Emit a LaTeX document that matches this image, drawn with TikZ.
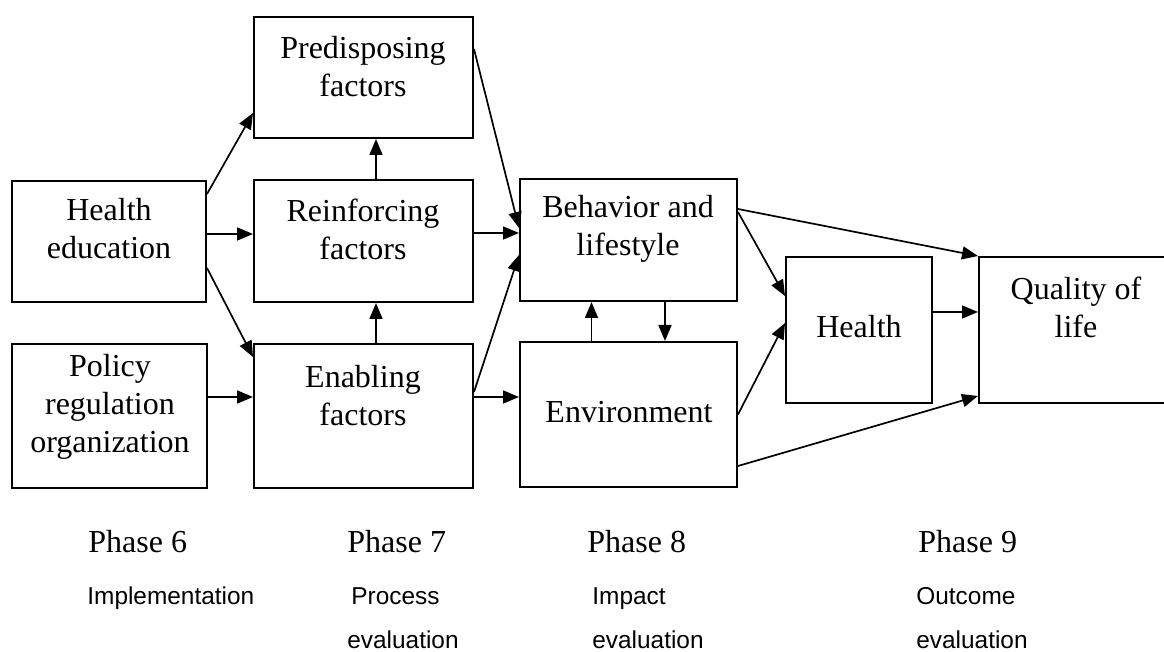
\documentclass[tikz,border=0pt]{standalone}
\usepackage{fontspec}
\setmainfont{Liberation Serif}
\newfontfamily\subfont{Liberation Sans}
\usetikzlibrary{arrows.meta,fit}
\begin{document}
\begin{tikzpicture}[x=0.5pt,y=-0.5pt,
  box/.style={draw,line width=1pt,inner sep=0pt},
  lbl/.style={align=center,inner sep=0pt,font=\fontsize{16}{19}\selectfont},
  arr/.style={line width=0.85pt,-{Triangle[length=8pt,width=6.5pt]}},
  phase/.style={anchor=base west,inner sep=0pt,font=\fontsize{16}{19}\selectfont},
  sub/.style={anchor=base west,inner sep=0pt,font=\subfont\fontsize{12.2}{14}\selectfont}]
\clip (0,0) rectangle (1164,652);
\useasboundingbox (0,0) rectangle (1164,652);
% boxes
\node[box,fit={(254,17) (473,138)}] (pre) {};
\node[box,fit={(12,181) (206,302)}] (he) {};
\node[box,fit={(254,180) (473,302)}] (rein) {};
\node[box,fit={(12,344) (207,488)}] (pol) {};
\node[box,fit={(254,344) (473,488)}] (ena) {};
\node[box,fit={(520,179) (737,301)}] (beh) {};
\node[box,fit={(520,342) (737,487)}] (env) {};
\node[box,fit={(786,257) (932,403)}] (hea) {};
\node[box,fit={(979,257) (1180,403)}] (qol) {};
% texts
\node[lbl] (preT) at (363,67) {Predisposing\\factors};
\node[lbl] (heT) at (109,229) {Health\\education};
\node[lbl] (reinT) at (363,229) {Reinforcing\\factors};
\node[lbl] (polT) at (110,407) {Policy\\regulation\\organization};
\node[lbl] (enaT) at (363,396) {Enabling\\factors};
\node[lbl] (behT) at (628,229) {Behavior and\\lifestyle};
\node[lbl] (envT) at (629,412) {Environment};
\node[lbl] (heaT) at (859,327) {Health};
\node[lbl] (qolT) at (1076,307) {Quality of\\life};
% connectors
\draw[arr] ([yshift=-7pt]he.north east) -- ([yshift=13pt]pre.south west);
\coordinate (h2) at ([yshift=3.75pt]he.east);
\draw[arr] (h2) -- (h2 -| rein.west);
\draw[arr] ([yshift=17.5pt]he.south east) -- ([yshift=-7pt]ena.north west);
\coordinate (r4) at ([xshift=6.25pt]rein.north);
\draw[arr] (r4) -- (r4 |- pre.south);
\coordinate (e5) at ([xshift=6.25pt]ena.north);
\draw[arr] (e5) -- (e5 |- rein.south);
\coordinate (p6) at ([yshift=9.5pt]pol.east);
\draw[arr] (p6) -- (p6 -| ena.west);
\draw[arr] ([yshift=-16.5pt]pre.north east) -- ([yshift=6pt]beh.west);
\coordinate (r8) at ([yshift=4pt]rein.east);
\draw[arr] (r8) -- (r8 -| beh.west);
\draw[arr] ([yshift=12pt]ena.east) -- ([yshift=-7.5pt]beh.west);
\coordinate (e10) at ([yshift=9.5pt]ena.east);
\draw[arr] (e10) -- (e10 -| env.west);
\coordinate (v11) at ([xshift=-18.5pt]env.north);
\draw[arr] (v11) -- (v11 |- beh.south);
\coordinate (b12) at ([xshift=18.25pt]beh.south);
\draw[arr] (b12) -- (b12 |- env.north);
\draw[arr] ([yshift=-15.5pt]beh.north east) -- (qol.north west);
\draw[arr] ([yshift=-17pt]beh.north east) -- ([yshift=-20pt]hea.north west);
\draw[arr] (env.east) -- ([yshift=3.5pt]hea.west);
\draw[arr] ([yshift=11pt]env.south east) -- ([yshift=4pt]qol.south west);
\coordinate (h17) at ([yshift=9pt]hea.east);
\draw[arr] (h17) -- (h17 -| qol.west);
% phases
\node[phase] (ph6) at (88,553) {Phase 6};
\node[sub] (ph6a) at (87,604) {Implementation};
\node[phase] (ph7) at (347,553) {Phase 7};
\node[sub] (ph7a) at (351,604) {Process};
\node[sub] (ph7b) at (347,648) {evaluation};
\node[phase] (ph8) at (587,553) {Phase 8};
\node[sub] (ph8a) at (592,604) {Impact};
\node[sub] (ph8b) at (592,648) {evaluation};
\node[phase] (ph9) at (918,553) {Phase 9};
\node[sub] (ph9a) at (916,604) {Outcome};
\node[sub] (ph9b) at (916,648) {evaluation};
\end{tikzpicture}
\end{document}
